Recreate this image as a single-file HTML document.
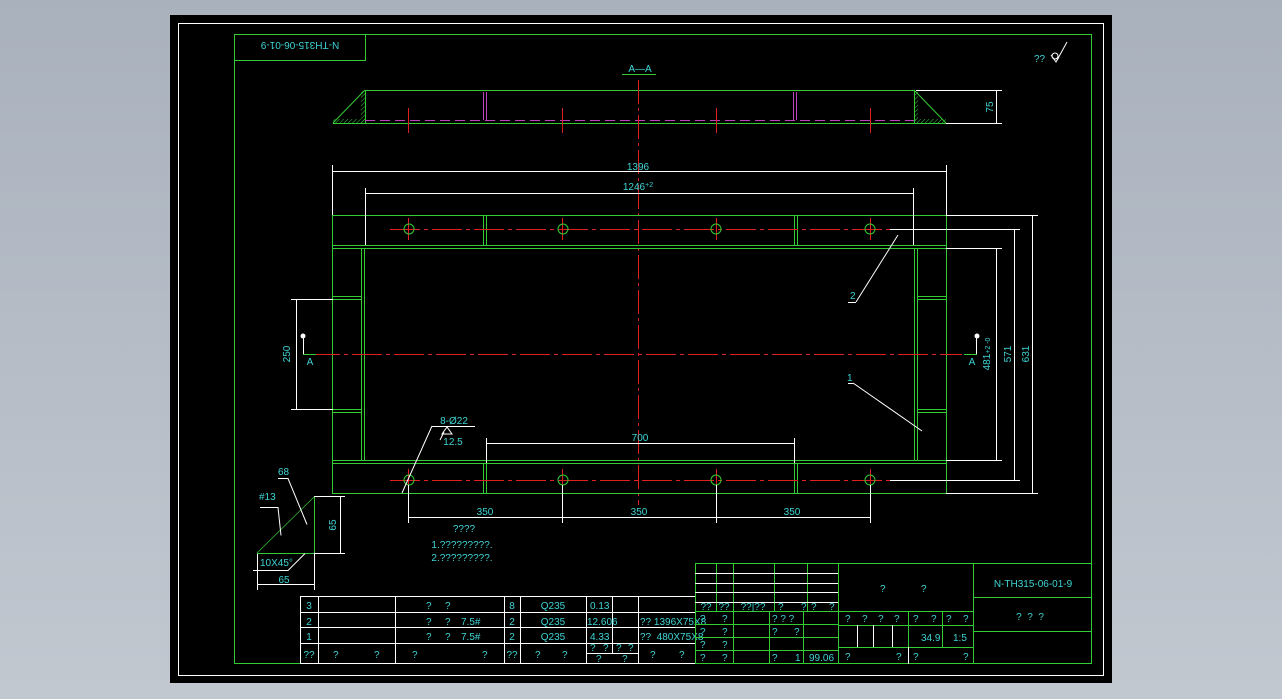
<!DOCTYPE html>
<html><head><meta charset="utf-8"><style>
html,body{margin:0;padding:0;width:1282px;height:699px;overflow:hidden;background:linear-gradient(#a9b1bd,#c2c8d0);}
svg{display:block}
text{font-family:"Liberation Sans Narrow","Liberation Sans",sans-serif;fill:#3fd4d4;font-size:10px;white-space:pre}
</style></head><body>
<svg width="1282" height="699" viewBox="0 0 1282 699" xmlns="http://www.w3.org/2000/svg">
<defs>
<pattern id="h" width="3" height="3" patternUnits="userSpaceOnUse" patternTransform="rotate(45)"><line x1="0" y1="0" x2="0" y2="3" stroke="#3c3" stroke-width="1"/></pattern>
</defs>
<rect x="170" y="15" width="942" height="668" fill="#000"/>
<rect x="178.5" y="23.5" width="925" height="652" fill="none" stroke="#fff" stroke-width="1"/>
<g fill="none" stroke="#3c3" stroke-width="1">
<rect x="234.5" y="34.5" width="857" height="629"/>
<rect x="234.5" y="34.5" width="131" height="26"/>
</g>
<text x="300" y="52" text-anchor="middle" font-size="13" transform="rotate(180 300 47)">N-TH315-06-01-9</text>
<text x="1034" y="62" font-size="9">??</text>
<path d="M1051 55 l5 7 l3 -5 M1056 62 l11 -20" stroke="#fff" fill="none"/>
<circle cx="1055" cy="56" r="3" stroke="#fff" fill="none"/>

<text x="640" y="72" text-anchor="middle">A—A</text>
<line x1="622" y1="74.5" x2="656" y2="74.5" stroke="#3c3"/>
<g stroke="#3c3" fill="none">
<line x1="365" y1="90.5" x2="914" y2="90.5"/>
<line x1="333" y1="123.5" x2="946" y2="123.5"/>
<line x1="333" y1="123" x2="365" y2="90"/>
<line x1="914" y1="90" x2="946" y2="123"/>
<line x1="365.5" y1="90" x2="365.5" y2="123"/>
<line x1="914.5" y1="90" x2="914.5" y2="123"/>
</g>
<rect x="333" y="119" width="32" height="4" fill="url(#h)"/>
<rect x="361" y="91" width="4" height="32" fill="url(#h)"/>
<rect x="914" y="119" width="32" height="4" fill="url(#h)"/>
<rect x="914" y="91" width="4" height="32" fill="url(#h)"/>
<line x1="365" y1="120.5" x2="914" y2="120.5" stroke="#c040c0" stroke-dasharray="10,5"/>
<g stroke="#c040c0"><line x1="483.5" y1="92" x2="483.5" y2="120"/><line x1="486.5" y1="92" x2="486.5" y2="120"/><line x1="793.5" y1="92" x2="793.5" y2="120"/><line x1="796.5" y1="92" x2="796.5" y2="120"/></g>
<g stroke="#e02020"><line x1="408.5" y1="108" x2="408.5" y2="133"/><line x1="562.5" y1="108" x2="562.5" y2="133"/><line x1="716.5" y1="108" x2="716.5" y2="133"/><line x1="870.5" y1="108" x2="870.5" y2="133"/></g>
<line x1="638.5" y1="80" x2="638.5" y2="505" stroke="#e02020" stroke-dasharray="24,4,3,4"/>
<g stroke="#fff"><line x1="916" y1="90.5" x2="1002" y2="90.5"/><line x1="946" y1="123.5" x2="1002" y2="123.5"/><line x1="996.5" y1="90" x2="996.5" y2="123"/></g>
<text x="993" y="107" text-anchor="middle" transform="rotate(-90 993 107)">75</text>

<g stroke="#3c3" fill="none">
<rect x="332.5" y="215.5" width="614" height="278"/>
<line x1="333" y1="245.5" x2="946" y2="245.5"/>
<line x1="333" y1="248.5" x2="946" y2="248.5"/>
<line x1="333" y1="460.5" x2="946" y2="460.5"/>
<line x1="333" y1="463.5" x2="946" y2="463.5"/>
<line x1="361.5" y1="248" x2="361.5" y2="460"/>
<line x1="364.5" y1="248" x2="364.5" y2="460"/>
<line x1="914.5" y1="248" x2="914.5" y2="460"/>
<line x1="917.5" y1="248" x2="917.5" y2="460"/>
<line x1="333" y1="296.5" x2="361" y2="296.5"/><line x1="333" y1="299.5" x2="361" y2="299.5"/>
<line x1="333" y1="409.5" x2="361" y2="409.5"/><line x1="333" y1="412.5" x2="361" y2="412.5"/>
<line x1="918" y1="296.5" x2="946" y2="296.5"/><line x1="918" y1="299.5" x2="946" y2="299.5"/>
<line x1="918" y1="409.5" x2="946" y2="409.5"/><line x1="918" y1="412.5" x2="946" y2="412.5"/>
<line x1="483.5" y1="215" x2="483.5" y2="245"/><line x1="486.5" y1="215" x2="486.5" y2="245"/>
<line x1="794.5" y1="215" x2="794.5" y2="245"/><line x1="797.5" y1="215" x2="797.5" y2="245"/>
<line x1="483.5" y1="463" x2="483.5" y2="493"/><line x1="486.5" y1="463" x2="486.5" y2="493"/>
<line x1="794.5" y1="463" x2="794.5" y2="493"/><line x1="797.5" y1="463" x2="797.5" y2="493"/>
</g>
<g stroke="#e02020" stroke-dasharray="30,4,4,4">
<line x1="390" y1="229.5" x2="890" y2="229.5"/>
<line x1="390" y1="480.5" x2="890" y2="480.5"/>
<line x1="310" y1="354.5" x2="962" y2="354.5"/>
</g>
<g stroke="#e02020">
<line x1="408.5" y1="218" x2="408.5" y2="240"/><line x1="562.5" y1="218" x2="562.5" y2="240"/><line x1="716.5" y1="218" x2="716.5" y2="240"/><line x1="870.5" y1="218" x2="870.5" y2="240"/>
<line x1="408.5" y1="469" x2="408.5" y2="491"/><line x1="562.5" y1="469" x2="562.5" y2="491"/><line x1="716.5" y1="469" x2="716.5" y2="491"/><line x1="870.5" y1="469" x2="870.5" y2="491"/>
</g>
<g stroke="#3c3" fill="none">
<circle cx="409" cy="229" r="5"/><circle cx="563" cy="229" r="5"/><circle cx="716" cy="229" r="5"/><circle cx="870" cy="229" r="5"/>
<circle cx="409" cy="480" r="5"/><circle cx="563" cy="480" r="5"/><circle cx="716" cy="480" r="5"/><circle cx="870" cy="480" r="5"/>
</g>

<g stroke="#fff" fill="none">
<line x1="333" y1="171.5" x2="946" y2="171.5"/>
<line x1="332.5" y1="165" x2="332.5" y2="215"/><line x1="946.5" y1="165" x2="946.5" y2="215"/>
<line x1="365" y1="193.5" x2="914" y2="193.5"/>
<line x1="365.5" y1="188" x2="365.5" y2="245"/><line x1="913.5" y1="188" x2="913.5" y2="245"/>
<line x1="946" y1="215.5" x2="1038" y2="215.5"/>
<line x1="946" y1="493.5" x2="1038" y2="493.5"/>
<line x1="1032.5" y1="215" x2="1032.5" y2="493"/>
<line x1="890" y1="229.5" x2="1020" y2="229.5"/>
<line x1="890" y1="480.5" x2="1020" y2="480.5"/>
<line x1="1014.5" y1="229" x2="1014.5" y2="480"/>
<line x1="946" y1="248.5" x2="1002" y2="248.5"/>
<line x1="946" y1="460.5" x2="1002" y2="460.5"/>
<line x1="996.5" y1="248" x2="996.5" y2="460"/>
<line x1="291" y1="299.5" x2="333" y2="299.5"/>
<line x1="291" y1="409.5" x2="333" y2="409.5"/>
<line x1="296.5" y1="299" x2="296.5" y2="409"/>
<line x1="303.5" y1="338" x2="303.5" y2="354"/>
<line x1="976.5" y1="338" x2="976.5" y2="354"/>
<line x1="408.5" y1="485" x2="408.5" y2="523"/>
<line x1="562.5" y1="485" x2="562.5" y2="523"/>
<line x1="716.5" y1="485" x2="716.5" y2="523"/>
<line x1="870.5" y1="485" x2="870.5" y2="523"/>
<line x1="408" y1="517.5" x2="870" y2="517.5"/>
<line x1="486.5" y1="438" x2="486.5" y2="463"/>
<line x1="794.5" y1="438" x2="794.5" y2="463"/>
<line x1="486" y1="443.5" x2="794" y2="443.5"/>
<line x1="432" y1="426.5" x2="475" y2="426.5"/>
<line x1="432" y1="426" x2="402" y2="493"/>
<path d="M447 427 l-5 7 h10 z M444 432 l-4 8"/>
<line x1="848" y1="302.5" x2="856" y2="302.5"/><line x1="856" y1="302" x2="898" y2="235"/>
<line x1="848" y1="383.5" x2="853" y2="383.5"/><line x1="853" y1="383" x2="922" y2="431"/>
</g>
<circle cx="303" cy="336" r="2.5" fill="#fff"/><circle cx="977" cy="336" r="2.5" fill="#fff"/>
<line x1="303" y1="354.5" x2="316" y2="354.5" stroke="#3c3"/><line x1="964" y1="354.5" x2="977" y2="354.5" stroke="#3c3"/>
<text x="638" y="170" text-anchor="middle" font-size="11">1396</text>
<text x="638" y="190" text-anchor="middle" font-size="11">1246<tspan font-size="7" dy="-3">+2</tspan></text>
<text x="310" y="365" text-anchor="middle" font-size="9">A</text>
<text x="972" y="365" text-anchor="middle" font-size="9">A</text>
<text x="290" y="354" text-anchor="middle" font-size="11" transform="rotate(-90 290 354)">250</text>
<text x="990" y="354" text-anchor="middle" font-size="11" transform="rotate(-90 990 354)">481<tspan font-size="7">+2 -0</tspan></text>
<text x="1011" y="354" text-anchor="middle" font-size="11" transform="rotate(-90 1011 354)">571</text>
<text x="1029" y="354" text-anchor="middle" font-size="11" transform="rotate(-90 1029 354)">631</text>
<text x="485" y="515" text-anchor="middle" font-size="11">350</text>
<text x="639" y="515" text-anchor="middle" font-size="11">350</text>
<text x="792" y="515" text-anchor="middle" font-size="11">350</text>
<text x="640" y="441" text-anchor="middle" font-size="11">700</text>
<text x="454" y="424" text-anchor="middle" font-size="11">8-Ø22</text>
<text x="453" y="445" text-anchor="middle" font-size="10">12.5</text>
<text x="850" y="299" font-size="10">2</text>
<text x="847" y="381" font-size="10">1</text>

<g stroke="#3c3" fill="none">
<line x1="314.5" y1="497" x2="314.5" y2="553"/>
<line x1="257" y1="553.5" x2="314" y2="553.5"/>
</g>
<line x1="257" y1="553" x2="314" y2="497" stroke="#3c3" stroke-width="0.7"/>
<g stroke="#fff" fill="none">
<line x1="314" y1="496.5" x2="345" y2="496.5"/><line x1="314" y1="553.5" x2="345" y2="553.5"/>
<line x1="340.5" y1="497" x2="340.5" y2="553"/>
<line x1="257.5" y1="554" x2="257.5" y2="590"/><line x1="314.5" y1="554" x2="314.5" y2="590"/>
<line x1="258" y1="584.5" x2="314" y2="584.5"/>
<path d="M253 570.5 h35 l17 -17"/>
<path d="M260 507.5 h18 l3 28"/>
<path d="M278 478.5 h10 l19 46"/>
</g>
<text x="336" y="525" text-anchor="middle" font-size="11" transform="rotate(-90 336 525)">65</text>
<text x="284" y="583" text-anchor="middle" font-size="11">65</text>
<text x="260" y="566" font-size="10">10X45°</text>
<text x="278" y="475" font-size="10">68</text>
<text x="259" y="500" font-size="10">#13</text>
<text x="464" y="532" text-anchor="middle" font-size="12">????</text>
<text x="462" y="548" text-anchor="middle" font-size="11">1.?????????.</text>
<text x="462" y="561" text-anchor="middle" font-size="11">2.?????????.</text>

<g stroke="#fff" fill="none">
<rect x="300.5" y="596.5" width="395" height="67"/>
<line x1="300" y1="612.5" x2="695" y2="612.5"/>
<line x1="300" y1="627.5" x2="695" y2="627.5"/>
<line x1="300" y1="643.5" x2="695" y2="643.5"/>
<line x1="318.5" y1="596" x2="318.5" y2="664"/>
<line x1="395.5" y1="596" x2="395.5" y2="664"/>
<line x1="504.5" y1="596" x2="504.5" y2="664"/>
<line x1="520.5" y1="596" x2="520.5" y2="664"/>
<line x1="586.5" y1="596" x2="586.5" y2="664"/>
<line x1="612.5" y1="596" x2="612.5" y2="654"/>
<line x1="638.5" y1="596" x2="638.5" y2="664"/>
<line x1="586" y1="653.5" x2="638" y2="653.5"/>
</g>
<g font-size="11">
<text x="309" y="609" text-anchor="middle">3</text><text x="309" y="625" text-anchor="middle">2</text><text x="309" y="640" text-anchor="middle">1</text><text x="309" y="658" text-anchor="middle">??</text>
<text x="426" y="609">?</text><text x="445" y="609">?</text>
<text x="426" y="625">?</text><text x="445" y="625">?</text><text x="461" y="625">7.5#</text>
<text x="426" y="640">?</text><text x="445" y="640">?</text><text x="461" y="640">7.5#</text>
<text x="512" y="609" text-anchor="middle">8</text><text x="512" y="625" text-anchor="middle">2</text><text x="512" y="640" text-anchor="middle">2</text><text x="512" y="658" text-anchor="middle">??</text>
<text x="553" y="609" text-anchor="middle">Q235</text><text x="553" y="625" text-anchor="middle">Q235</text><text x="553" y="640" text-anchor="middle">Q235</text>
<text x="590" y="609">0.13</text><text x="587" y="625">12.606</text><text x="590" y="640">4.33</text>
<text x="640" y="625" font-size="9">?? 1396X75X8</text><text x="640" y="640" font-size="9">??  480X75X8</text>
<text x="333" y="658">?</text><text x="374" y="658">?</text><text x="412" y="658">?</text><text x="482" y="658">?</text>
<text x="535" y="658">?</text><text x="562" y="658">?</text>
<text x="590" y="651" font-size="9">?</text><text x="603" y="651" font-size="9">?</text><text x="616" y="651" font-size="9">?</text><text x="628" y="651" font-size="9">?</text>
<text x="596" y="662" font-size="9">?</text><text x="622" y="662" font-size="9">?</text>
<text x="650" y="658">?</text><text x="679" y="658">?</text>
</g>

<g stroke="#3c3" fill="none">
<rect x="695.5" y="563.5" width="396" height="100"/>
<line x1="838.5" y1="563" x2="838.5" y2="664"/>
<line x1="973.5" y1="563" x2="973.5" y2="664"/>
<line x1="973" y1="597.5" x2="1092" y2="597.5"/>
<line x1="973" y1="631.5" x2="1092" y2="631.5"/>
<line x1="838" y1="611.5" x2="973" y2="611.5"/>
<line x1="838" y1="625.5" x2="973" y2="625.5"/>
<line x1="838" y1="647.5" x2="973" y2="647.5"/>
<line x1="908.5" y1="611" x2="908.5" y2="647"/>
<line x1="942.5" y1="611" x2="942.5" y2="647"/>
<line x1="695" y1="611.5" x2="838" y2="611.5"/>
<line x1="716.5" y1="563" x2="716.5" y2="612"/>
<line x1="733.5" y1="563" x2="733.5" y2="664"/>
<line x1="774.5" y1="563" x2="774.5" y2="612"/>
<line x1="807.5" y1="563" x2="807.5" y2="612"/>
<line x1="769.5" y1="612" x2="769.5" y2="664"/>
<line x1="803.5" y1="612" x2="803.5" y2="664"/>
<line x1="695" y1="624.5" x2="838" y2="624.5"/>
<line x1="695" y1="637.5" x2="838" y2="637.5"/>
<line x1="695" y1="650.5" x2="838" y2="650.5"/>
</g>
<g stroke="#fff">
<line x1="695" y1="573.5" x2="838" y2="573.5"/>
<line x1="695" y1="583.5" x2="838" y2="583.5"/>
<line x1="695" y1="592.5" x2="838" y2="592.5"/>
<line x1="695" y1="602.5" x2="838" y2="602.5"/>
<line x1="857.5" y1="625" x2="857.5" y2="647"/>
<line x1="873.5" y1="625" x2="873.5" y2="647"/>
<line x1="892.5" y1="625" x2="892.5" y2="647"/>
<line x1="908.5" y1="647" x2="908.5" y2="664"/>
</g>
<g font-size="9">
<text x="706" y="610" text-anchor="middle">??</text><text x="724" y="610" text-anchor="middle">??</text><text x="753" y="610" text-anchor="middle">??|??</text>
<text x="778" y="610">?</text><text x="801" y="610">?</text><text x="811" y="610">?</text><text x="829" y="610">?</text>
<text x="700" y="622">?</text><text x="722" y="622">?</text><text x="772" y="622">? ? ?</text>
<text x="700" y="635">?</text><text x="722" y="635">?</text><text x="772" y="635">?</text><text x="794" y="635">?</text>
<text x="700" y="648">?</text><text x="722" y="648">?</text>
<text x="700" y="661">?</text><text x="722" y="661">?</text><text x="772" y="661">?</text><text x="795" y="661">1</text><text x="809" y="661">99.06</text>
<text x="845" y="622">?</text><text x="862" y="622">?</text><text x="878" y="622">?</text><text x="894" y="622">?</text>
<text x="913" y="622">?</text><text x="931" y="622">?</text><text x="946" y="622">?</text><text x="963" y="622">?</text>
<text x="921" y="641" font-size="10">34.9</text><text x="953" y="641" font-size="10">1:5</text>
<text x="845" y="660">?</text><text x="896" y="660">?</text><text x="913" y="660">?</text><text x="963" y="660">?</text>
</g>
<text x="880" y="592" font-size="15">?</text><text x="921" y="592" font-size="15">?</text>
<text x="1033" y="587" text-anchor="middle" font-size="15">N-TH315-06-01-9</text>
<text x="1030" y="620" text-anchor="middle" font-size="16">?  ?  ?</text>
</svg>
</body></html>
